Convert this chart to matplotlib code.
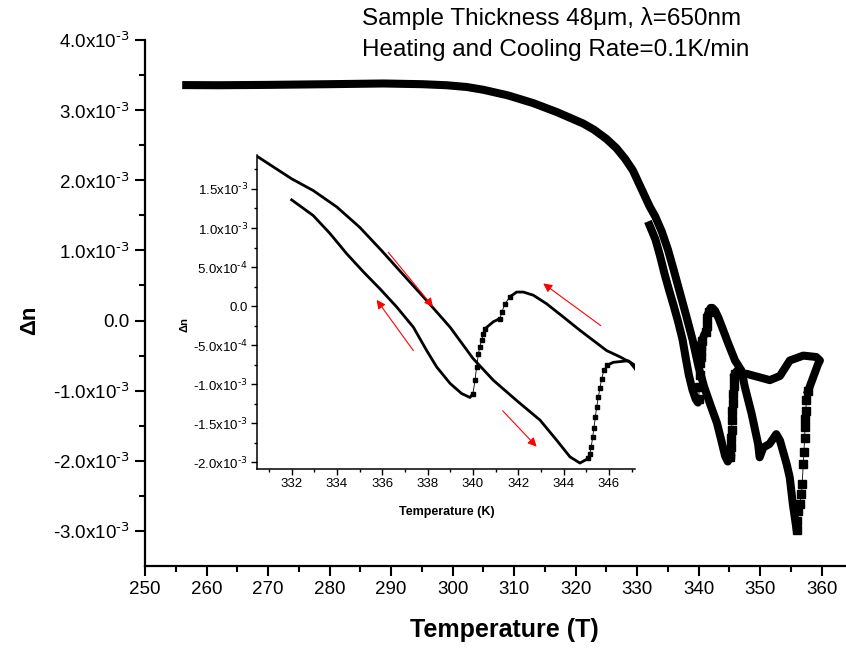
import numpy as np
from matplotlib import pyplot as plt

plt.rcParams['font.family'] = ['Liberation Sans', 'DejaVu Sans']
plt.rcParams['mathtext.default'] = 'regular'

# delta n values are in units of 1e-3
# heating run, dense part (256.7 K up to the dip at 345 K)
heat_T = [256.7, 262, 270, 280, 288.7, 295, 299, 302.3, 305, 309, 313.1, 317, 321.2,
          323, 325, 326.6, 328, 329.3, 330.48, 332.0, 332.95, 333.99, 335.0, 335.97,
          336.9, 337.96, 338.99, 340.0, 340.9, 341.93, 342.96, 343.7, 344.28, 344.72,
          345.09]
heat_dn = [3.357, 3.355, 3.36, 3.37, 3.38, 3.37, 3.355, 3.33, 3.29, 3.21, 3.10, 2.97, 2.81,
           2.72, 2.59, 2.46, 2.31, 2.14, 1.917, 1.63, 1.48, 1.27, 1.01, 0.71,
           0.41, 0.07, -0.27, -0.67, -0.95, -1.21, -1.46, -1.72, -1.93, -2.01,
           -1.95]
# heating, fast jump at 345 K
heat_jump_T = [345.09, 345.15, 345.22, 345.28, 345.34, 345.40, 345.46, 345.53, 345.60,
               345.68, 345.78, 345.9]
heat_jump_dn = [-1.95, -1.90, -1.80, -1.68, -1.56, -1.42, -1.29, -1.17, -1.05,
                -0.93, -0.82, -0.76]
# heating up to 359.7 K and start of cooling
top_T = [345.9, 346.19, 346.85, 347.15, 347.8, 349.9, 351.55, 353.2, 354.8, 357.0,
         359.1, 359.7, 359.4, 358.6, 357.8]
top_dn = [-0.76, -0.72, -0.70, -0.76, -0.76, -0.81, -0.85, -0.79, -0.57, -0.50,
          -0.52, -0.57, -0.62, -0.81, -1.0]
# cooling, drop at 357 K
cool_jump_T = [357.8, 357.5, 357.4, 357.35, 357.3, 357.2, 357.1, 357.0, 356.8, 356.7,
               356.4, 356.15, 355.95, 355.9]
cool_jump_dn = [-1.0, -1.14, -1.29, -1.40, -1.52, -1.67, -1.88, -2.05, -2.33, -2.48,
                -2.62, -2.71, -2.86, -2.98]
# cooling, dense part down to 341.6 K
cool_T = [355.9, 355.3, 354.8, 354.3, 353.2, 352.6, 351.5, 350.5, 349.9, 349.65, 348.6,
          347.5, 347.15, 346.93, 346.49, 345.9, 345.31, 344.72, 343.99, 343.25, 342.66,
          342.22, 341.93, 341.63]
cool_dn = [-2.98, -2.62, -2.24, -2.05, -1.71, -1.62, -1.76, -1.81, -1.95, -1.76, -1.33,
           -0.95, -0.80, -0.72, -0.65, -0.57, -0.44, -0.31, -0.14, 0.03, 0.14,
           0.18, 0.18, 0.12]
# cooling, around 341 K
peak_jump_T = [341.63, 341.41, 341.27, 341.19]
peak_jump_dn = [0.12, 0.03, -0.08, -0.16]
shelf_T = [341.19, 340.9, 340.53]
shelf_dn = [-0.16, -0.20, -0.29]
drop_T = [340.53, 340.45, 340.38, 340.30, 340.24, 340.16, 340.09, 340.0]
drop_dn = [-0.29, -0.36, -0.44, -0.52, -0.61, -0.78, -0.95, -1.12]
# cooling, last branch down to 332 K
low_T = [340.0, 339.87, 339.5, 338.99, 338.4, 337.96, 337.37, 336.63, 335.9, 335.16,
         334.43, 333.69, 332.95, 332.0]
low_dn = [-1.12, -1.17, -1.12, -0.99, -0.78, -0.57, -0.27, -0.01, 0.22, 0.44,
          0.67, 0.93, 1.16, 1.36]

dense = [(heat_T, heat_dn), (top_T, top_dn), (cool_T, cool_dn),
         (shelf_T, shelf_dn), (low_T, low_dn)]
sparse = [(heat_jump_T, heat_jump_dn), (cool_jump_T, cool_jump_dn),
          (peak_jump_T, peak_jump_dn), (drop_T, drop_dn)]

main_yticks = [-3e-3, -2e-3, -1e-3, 0, 1e-3, 2e-3, 3e-3, 4e-3]
main_ylabels = ['-3.0x10$^{\\text{-3}}$', '-2.0x10$^{\\text{-3}}$', '-1.0x10$^{\\text{-3}}$', '0.0',
                '1.0x10$^{\\text{-3}}$', '2.0x10$^{\\text{-3}}$', '3.0x10$^{\\text{-3}}$',
                '4.0x10$^{\\text{-3}}$']
ins_yticks = [-2e-3, -1.5e-3, -1e-3, -5e-4, 0, 5e-4, 1e-3, 1.5e-3]
ins_ylabels = ['-2.0x10$^{\\text{-3}}$', '-1.5x10$^{\\text{-3}}$', '-1.0x10$^{\\text{-3}}$',
               '-5.0x10$^{\\text{-4}}$', '0.0', '5.0x10$^{\\text{-4}}$',
               '1.0x10$^{\\text{-3}}$', '1.5x10$^{\\text{-3}}$']

# arrows in the inset: (T start, dn start, T end, dn end)
arrows = [(336.26, 0.69, 338.24, -0.01),
          (337.37, -0.57, 335.75, 0.08),
          (341.31, -1.34, 342.81, -1.80),
          (345.64, -0.25, 343.1, 0.29)]

fig = plt.figure(figsize=(8.46, 6.48), dpi=100)
ax = fig.add_axes([145/846, 82/648, 718/846, 526/648])
ins = fig.add_axes([257/846, 179/648, 378/846, 314/648])
ins.set_facecolor('none')

for T, dn in dense:
    ax.plot(T, np.array(dn)*1e-3, '-', color='black', lw=5.8,
            solid_capstyle='projecting', solid_joinstyle='round')
    ins.plot(T, np.array(dn)*1e-3, '-', color='black', lw=2.0)
for T, dn in sparse:
    ax.plot(T, np.array(dn)*1e-3, 's-', color='black', lw=0.6, ms=5.2)
    ins.plot(T, np.array(dn)*1e-3, 's-', color='black', lw=0.6, ms=2.6)

for t0, d0, t1, d1 in arrows:
    ins.annotate('', xy=(t1, d1*1e-3), xytext=(t0, d0*1e-3),
                 arrowprops=dict(arrowstyle='-|>', color='red', lw=0.8,
                                 mutation_scale=13, shrinkA=0, shrinkB=0))

ax.set_xlim(250, 366.7)
ax.set_ylim(-3.5e-3, 4.0e-3)
ax.set_xticks(np.arange(250, 361, 10))
ax.set_xticks(np.arange(255, 366, 10), minor=True)
ax.set_yticks(main_yticks)
ax.set_yticklabels(main_ylabels)
ax.set_yticks(np.arange(-2.5e-3, 4e-3, 1e-3), minor=True)
for s in ['top', 'right']:
    ax.spines[s].set_visible(False)
for s in ['left', 'bottom']:
    ax.spines[s].set_linewidth(1.6)
ax.tick_params(which='major', direction='out', length=7, width=1.5, labelsize=13.5, pad=4)
ax.tick_params(which='minor', direction='out', length=4, width=1.5)

ins.set_xlim(330.47, 347.15)
ins.set_ylim(-2.086e-3, 1.935e-3)
ins.set_xticks(np.arange(332, 347, 2))
ins.set_xticks(np.arange(331, 348, 2), minor=True)
ins.set_yticks(ins_yticks)
ins.set_yticklabels(ins_ylabels)
ins.set_yticks(np.arange(-1.75e-3, 1.9e-3, 5e-4), minor=True)
for s in ['top', 'right']:
    ins.spines[s].set_visible(False)
for s in ['left', 'bottom']:
    ins.spines[s].set_linewidth(1.1)
ins.tick_params(which='major', direction='out', length=4.5, width=1, labelsize=9.5, pad=2)
ins.tick_params(which='minor', direction='out', length=2.5, width=1)

fig.text(504/846, 1-630/648, 'Temperature (T)', ha='center', va='center',
         fontsize=18, fontweight='bold')
fig.text(30/846, 1-320/648, 'Δn', ha='center', va='center', rotation=90,
         fontsize=16, fontweight='bold')
fig.text(447/846, 1-512/648, 'Temperature (K)', ha='center', va='center',
         fontsize=9, fontweight='bold')
fig.text(184/846, 1-325/648, 'Δn', ha='center', va='center', rotation=90,
         fontsize=8, fontweight='bold')
fig.text(362/846, 1-18/648, 'Sample Thickness 48μm, λ=650nm', ha='left', va='center',
         fontsize=17.5)
fig.text(362/846, 1-50/648, 'Heating and Cooling Rate=0.1K/min', ha='left', va='center',
         fontsize=17.5)

fig.savefig('out.png', dpi=100)
